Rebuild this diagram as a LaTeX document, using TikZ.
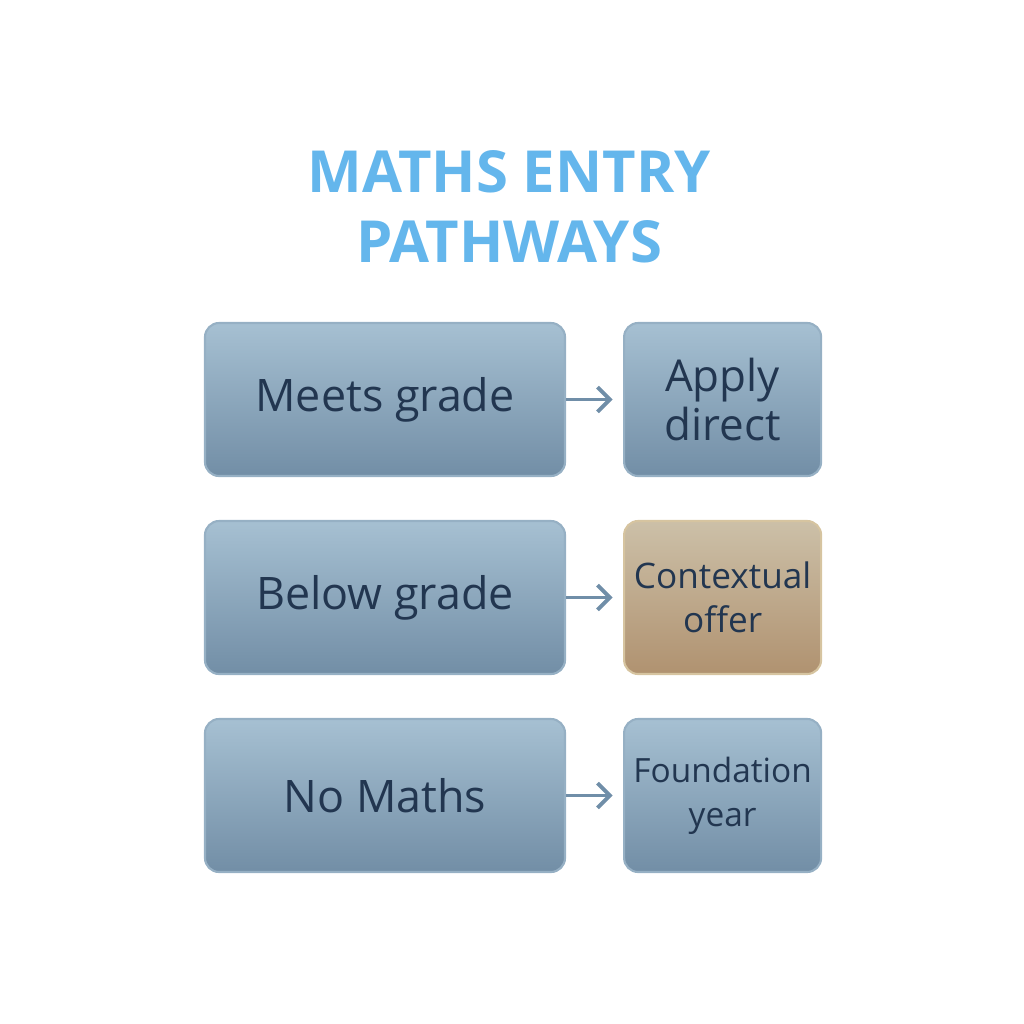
\documentclass[tikz,border=0pt]{standalone}
\usepackage{fontspec}
\setmainfont{Open Sans}
\definecolor{titleblue}{RGB}{100, 182, 236}
\definecolor{boxtop}{RGB}{166, 192, 210}
\definecolor{boxbottom}{RGB}{114, 142, 166}
\definecolor{boxline}{RGB}{150, 176, 196}
\definecolor{tantop}{RGB}{204, 192, 168}
\definecolor{tanbottom}{RGB}{176, 146, 112}
\definecolor{tanline}{RGB}{214, 196, 160}
\definecolor{textnavy}{RGB}{34, 54, 80}
\definecolor{arrowgrey}{RGB}{112, 142, 168}
\usetikzlibrary{arrows.meta, positioning}

\tikzset{
  pathbox/.style={draw=boxline, line width=1.2pt, rounded corners=8pt,
    top color=boxtop, bottom color=boxbottom, text=textnavy,
    minimum height=3.06cm, align=center, inner sep=2pt},
  leftbox/.style={pathbox, minimum width=7.2cm, font=\fontsize{25.5}{30}\selectfont},
  rightbox/.style={pathbox, minimum width=3.94cm, text width=3.7cm},
  tanbox/.style={rightbox, draw=tanline, top color=tantop, bottom color=tanbottom},
  pathto/.style={-{Straight Barb[length=7pt, width=14pt, line width=2.2pt]},
    draw=arrowgrey, line width=2.2pt, shorten >=6pt}
}

\begin{document}
\begin{tikzpicture}
  \useasboundingbox (0,0) rectangle (20.48,-20.48);

  % title
  \node[text=titleblue, font=\fontsize{33}{40}\selectfont\bfseries, align=center] (title)
    at (10.18,-4.14) {MATHS ENTRY\\PATHWAYS};

  % left column
  \node[leftbox] (meets) at (7.7,-7.99) {Meets grade};
  \node[leftbox] (below) at (7.7,-11.95) {Below grade};
  \node[leftbox] (nomaths) at (7.7,-15.91) {No Maths};

  % right column
  \node[rightbox, right=1.14cm of meets, font=\fontsize{25}{28}\selectfont] (apply) {Apply\\direct};
  \node[tanbox, right=1.14cm of below, font=\fontsize{20}{25}\selectfont] (context) {Contextual\\offer};
  \node[rightbox, right=1.14cm of nomaths, font=\fontsize{19}{25}\selectfont] (foundation) {Foundation\\year};

  % arrows
  \draw[pathto] (meets) -- (apply);
  \draw[pathto] (below) -- (context);
  \draw[pathto] (nomaths) -- (foundation);
\end{tikzpicture}
\end{document}
